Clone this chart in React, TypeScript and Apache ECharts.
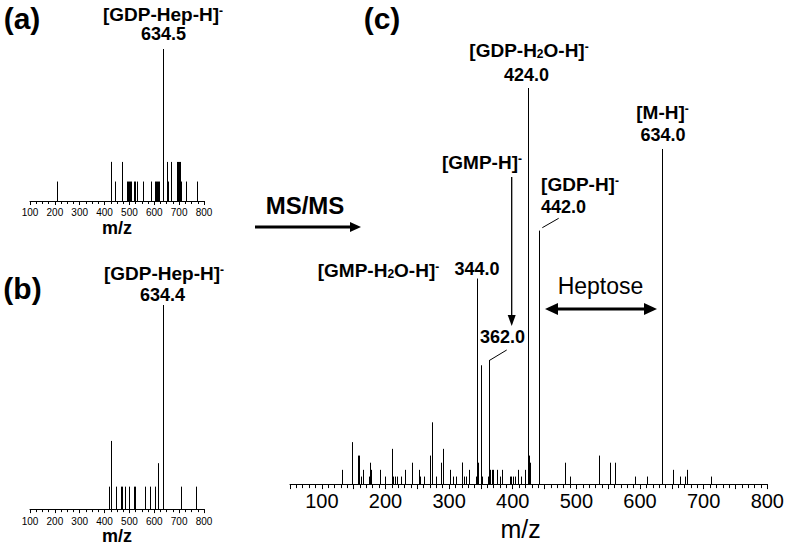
import React, { useEffect, useRef } from 'react';
import * as echarts from 'echarts';

const FONT = "'Liberation Sans', Arial, Helvetica, sans-serif";

// Panel (a): precursor scan, m/z and relative intensity
const aMz = [207, 424, 427, 443, 471, 489, 493, 497, 501, 505, 517, 521, 530, 553, 588, 603, 607, 612, 616, 620, 634.5, 650, 656, 668, 692.5, 697, 701, 705, 709, 727.5, 770.5];
const aIntensity = [12.8, 25.7, 25.7, 12.8, 25.7, 12.8, 12.8, 12.8, 12.8, 12.8, 12.8, 12.8, 12.8, 12.8, 12.8, 12.8, 12.8, 12.8, 12.8, 12.8, 100, 25.7, 12.8, 25.7, 25.7, 25.7, 25.7, 25.7, 12.8, 12.8, 12.8];

// Panel (b)
const bMz = [416, 424.5, 427, 445, 467, 471, 481, 497, 517, 521, 561, 584, 604, 613.5, 634.4, 637, 706, 769];
const bIntensity = [11, 33.4, 22.5, 11, 11, 11, 11, 11, 11, 11, 11, 11, 11, 22.5, 100, 11, 11, 11];

// Panel (c): MS/MS product ions
const cMz = [131, 147, 148, 156.5, 158.5, 162, 165, 174, 176, 177.5, 192, 200, 210, 212, 215, 218, 224, 230, 242, 252.5, 254, 260, 269.5, 272.5, 280, 288, 290, 302, 306, 311, 319.5, 321, 324, 327, 332, 342, 344, 346, 350, 352, 361, 362, 364.5, 367.5, 369.5, 375, 380, 383.5, 395, 398, 401, 404, 408.5, 413, 419, 424, 425.5, 427, 442, 482, 490, 536, 553, 561, 592.5, 611, 634, 652.5, 662.5, 671, 674.5, 712];
const cIntensity = [3.6, 1.9, 10.6, 7.2, 7.2, 1.9, 3.6, 1.9, 5.4, 3.6, 3.6, 1.9, 8.9, 1.9, 1.9, 1.9, 1.9, 3.6, 5.4, 3.6, 1.9, 1.9, 7.2, 15.6, 1.9, 5.4, 8.9, 3.6, 1.9, 1.9, 5.4, 5.4, 1.9, 1.9, 3.6, 1.9, 51.9, 5.4, 30.0, 1.9, 1.9, 31.3, 3.6, 3.6, 3.6, 3.6, 1.9, 3.6, 1.9, 1.9, 1.9, 1.9, 3.6, 1.9, 3.6, 100, 7.2, 5.4, 64.0, 5.4, 1.9, 7.2, 5.4, 5.4, 1.9, 1.9, 84.6, 3.6, 1.9, 1.9, 3.6, 1.9];

const stickSeries = (idx: number, mz: number[], inten: number[]) => ({
  type: 'custom',
  xAxisIndex: idx,
  yAxisIndex: idx,
  silent: true,
  data: mz.map((m, i) => [m, inten[i]]),
  encode: { x: 0, y: 1 },
  renderItem: (_params: any, api: any) => {
    const p0 = api.coord([api.value(0), 0]);
    const p1 = api.coord([api.value(0), api.value(1)]);
    const x = Math.round(p0[0]) + 0.5;
    return {
      type: 'line',
      shape: { x1: x, y1: p0[1], x2: x, y2: p1[1] },
      style: { stroke: '#000', lineWidth: 1 },
    };
  },
});

const xAxisSmall = (gridIndex: number, labelMargin: number, nameGap: number) => ({
  type: 'value',
  gridIndex,
  min: 100,
  max: 800,
  interval: 100,
  axisLine: { show: true, onZero: false, lineStyle: { color: '#000', width: 1 } },
  axisTick: { show: true, inside: false, length: 4, lineStyle: { color: '#000', width: 1 } },
  minorTick: { show: true, splitNumber: 4, length: 3, lineStyle: { color: '#000', width: 1 } },
  splitLine: { show: false },
  minorSplitLine: { show: false },
  axisLabel: { fontSize: 10, color: '#000', fontFamily: FONT, margin: labelMargin },
  name: 'm/z',
  nameLocation: 'middle',
  nameGap,
  nameTextStyle: { fontSize: 18, fontWeight: 'bold', color: '#000', fontFamily: FONT },
});

const richStyles = (size: number) => ({
  sup: { fontSize: 12, fontWeight: 'bold', fontFamily: FONT, fill: '#000', verticalAlign: 'top' },
  sub: { fontSize: 12, fontWeight: 'bold', fontFamily: FONT, fill: '#000', verticalAlign: 'bottom' },
  n: { fontSize: size, fontWeight: 'bold', fontFamily: FONT, fill: '#000' },
});

const txt = (text: string, x: number, y: number, size: number, bold = true) => ({
  type: 'text',
  x,
  y,
  silent: true,
  style: {
    text,
    fill: '#000',
    fontSize: size,
    fontWeight: bold ? 'bold' : 'normal',
    fontFamily: FONT,
    align: 'center',
    verticalAlign: 'middle',
    rich: richStyles(size),
  },
});

const seg = (x1: number, y1: number, x2: number, y2: number, w: number) => ({
  type: 'line',
  silent: true,
  shape: { x1, y1, x2, y2 },
  style: { stroke: '#000', lineWidth: w },
});

const tri = (points: number[][]) => ({
  type: 'polygon',
  silent: true,
  shape: { points },
  style: { fill: '#000' },
});

export default function App() {
  const ref = useRef<HTMLDivElement>(null);
  useEffect(() => {
    if (!ref.current) return;
    const chart = echarts.init(ref.current, undefined, { renderer: 'svg' });
    const option: any = {
      animation: false,
      backgroundColor: '#fff',
      grid: [
        { left: 30, top: 49, width: 174, height: 152 },
        { left: 30, top: 305, width: 174, height: 206.7 },
        { left: 290, top: 88, width: 478, height: 403 },
      ],
      xAxis: [
        xAxisSmall(0, 6, 18),
        xAxisSmall(1, 7, 17),
        {
          type: 'value',
          gridIndex: 2,
          min: 50,
          max: 800,
          interval: 50,
          axisLine: { show: true, onZero: false, lineStyle: { color: '#000', width: 1 } },
          axisTick: { show: true, inside: false, length: 5, lineStyle: { color: '#000', width: 1 } },
          minorTick: { show: true, splitNumber: 5, length: 4, lineStyle: { color: '#000', width: 1 } },
          splitLine: { show: false },
          minorSplitLine: { show: false },
          axisLabel: {
            fontSize: 20,
            color: '#000',
            fontFamily: FONT,
            margin: 7,
            formatter: (v: number) => (v % 100 === 0 ? String(v) : ''),
          },
          name: 'm/z',
          nameLocation: 'middle',
          nameGap: 29,
          nameTextStyle: { fontSize: 25, color: '#000', fontFamily: FONT, padding: [0, 16, 0, 0] },
        },
      ],
      yAxis: [0, 1, 2].map((g) => ({
        type: 'value',
        gridIndex: g,
        min: 0,
        max: 100,
        show: false,
        splitLine: { show: false },
      })),
      series: [
        stickSeries(0, aMz, aIntensity),
        stickSeries(1, bMz, bIntensity),
        stickSeries(2, cMz, cIntensity),
      ],
      graphic: {
        elements: [
          // panel letters
          txt('(a)', 22, 18, 30),
          txt('(b)', 22.5, 288, 30),
          txt('(c)', 382, 18, 30),
          // panel (a)/(b) annotations
          txt('{n|[GDP-Hep-H]}{sup|-}', 163, 14, 19),
          txt('634.5', 163.5, 34, 18),
          txt('{n|[GDP-Hep-H]}{sup|-}', 164, 273, 19),
          txt('634.4', 162.5, 295, 18),
          // MS/MS arrow
          txt('MS/MS', 305, 205, 24),
          seg(255, 227, 352, 227, 3.2),
          tri([[350, 222], [361, 227], [350, 232]]),
          // panel (c) annotations
          txt('{n|[GDP-H}{sub|2}{n|O-H]}{sup|-}', 529, 50, 19),
          txt('424.0', 526.5, 75, 18),
          txt('{n|[M-H]}{sup|-}', 662.5, 112, 19),
          txt('634.0', 663, 135, 18),
          txt('{n|[GMP-H]}{sup|-}', 482, 162, 19),
          seg(511.7, 177, 511.7, 318, 1.3),
          tri([[507.7, 315], [511.7, 326], [515.7, 315]]),
          txt('{n|[GDP-H]}{sup|-}', 580, 184, 19),
          txt('442.0', 563.5, 206.5, 18),
          seg(542.3, 227.7, 558.7, 218.3, 1),
          txt('{n|[GMP-H}{sub|2}{n|O-H]}{sup|-}', 378.5, 270, 19),
          txt('344.0', 477, 269, 18),
          txt('Heptose', 600.5, 286, 23, false),
          seg(555, 309, 647, 309, 3.2),
          tri([[545, 309], [558, 303], [558, 315]]),
          tri([[657, 309], [644, 303], [644, 315]]),
          txt('362.0', 502.5, 336.5, 18),
          seg(489, 360.7, 506.7, 350, 1),
        ],
      },
    };
    chart.setOption(option);
    return () => chart.dispose();
  }, []);
  return (
    <div
      ref={ref}
      style={{ position: 'absolute', left: 0, top: 0, width: 787, height: 546, background: '#fff' }}
    />
  );
}
